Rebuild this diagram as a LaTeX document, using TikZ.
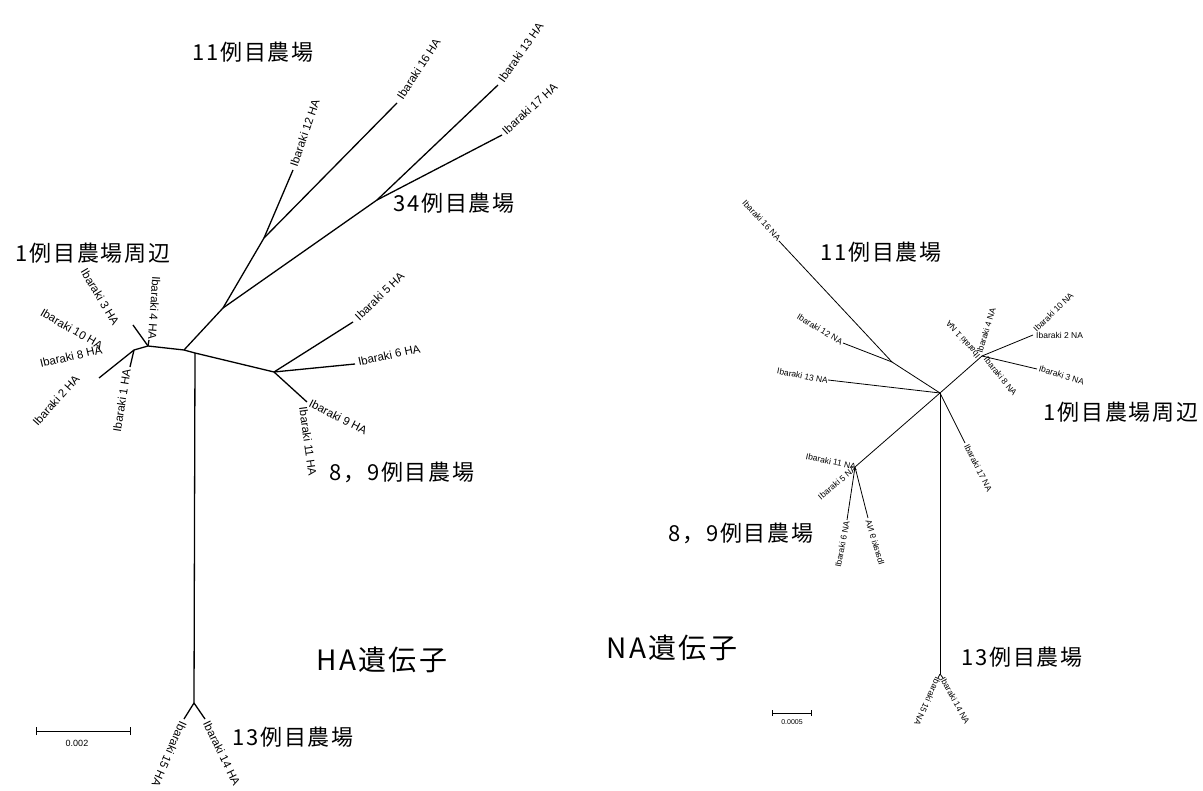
\documentclass[tikz,border=0pt]{standalone}
\usepackage{fontspec}
\usepackage{graphicx}
\newfontfamily\lbl{Liberation Sans}
\newfontfamily\cjk[LetterSpace=8]{Noto Sans CJK JP}
\begin{document}
\begin{tikzpicture}[x=1pt,y=-1pt,
  br/.style={line width=1.3pt,line join=round},
  nbr/.style={line width=0.8pt,line join=round},
  hal/.style={font=\lbl\fontsize{11.5}{12}\selectfont,inner sep=1pt},
  nal/.style={font=\lbl\fontsize{8.5}{9}\selectfont,inner sep=1pt},
  jp/.style={font=\cjk\fontsize{22}{22}\selectfont,inner sep=0pt},
  bigjp/.style={font=\cjk\fontsize{28}{28}\selectfont,inner sep=0pt},
  sbar/.style={line width=1pt}]
\useasboundingbox (0,0) rectangle (1203,791);
\fill[white] (0,0) rectangle (1203,791);
% ---------------- HA tree ----------------
\coordinate (A) at (134,350);
\coordinate (B) at (148,346);
\coordinate (C) at (184,350);
\coordinate (G) at (195,353);
\coordinate (E) at (223,308);
\coordinate (D) at (264,238);
\coordinate (F) at (377,200);
\coordinate (H) at (274,372);
\coordinate (I) at (194,703);
\coordinate (h2) at (99,378);
\coordinate (h1) at (130,367);
\coordinate (h3) at (133,325);
\coordinate (h4) at (149,340);
\coordinate (h12) at (293,170);
\coordinate (h16) at (397,103);
\coordinate (h13) at (498,85);
\coordinate (h17) at (502,135);
\coordinate (h5) at (353,322);
\coordinate (h6) at (355,364);
\coordinate (h9) at (307,402);
\coordinate (h15) at (184,719);
\coordinate (h14) at (205,719);
\draw[br] (h2) -- (A) -- (B) -- (C) -- (G) -- (H);
\draw[br] (A) -- (h1);
\draw[br] (B) -- (h3);
\draw[br] (B) -- (h4);
\draw[br] (C) -- (E);
\draw[br] (E) -- (D);
\draw[br] (E) -- (F);
\draw[br] (D) -- (h12);
\draw[br] (D) -- (h16);
\draw[br] (F) -- (h13);
\draw[br] (F) -- (h17);
\draw[br] (H) -- (h5);
\draw[br] (H) -- (h6);
\draw[br] (H) -- (h9);
\draw[br] (G) -- (I);
\draw[br] (I) -- (h15);
\draw[br] (I) -- (h14);
% HA labels
\node[hal,anchor=west,rotate=71] (l12) at (293,167) {Ibaraki 12 HA};
\node[hal,anchor=west,rotate=57] (l16) at (399,99) {Ibaraki 16 HA};
\node[hal,anchor=west,rotate=55] (l13) at (500,82) {Ibaraki 13 HA};
\node[hal,anchor=west,rotate=42] (l17) at (503,133) {Ibaraki 17 HA};
\node[hal,anchor=west,rotate=44] (l5) at (356,319) {Ibaraki 5 HA};
\node[hal,anchor=west,rotate=12] (l6) at (357,362) {Ibaraki 6 HA};
\node[hal,anchor=west,rotate=-27] (l9) at (309,402) {Ibaraki 9 HA};
\node[hal,anchor=west,rotate=-82] (l11) at (303,406) {Ibaraki 11 HA};
\node[hal,anchor=east,rotate=81] (l1) at (127,368) {Ibaraki 1 HA};
\node[hal,anchor=east,rotate=48] (l2) at (78,376) {Ibaraki 2 HA};
\node[hal,anchor=east,rotate=13] (l8) at (103,349) {Ibaraki 8 HA};
\node[hal,anchor=east,rotate=-30] (l10) at (103,347) {Ibaraki 10 HA};
\node[hal,anchor=east,rotate=-59] (l3) at (117,325) {Ibaraki 3 HA};
\node[hal,anchor=east,rotate=-94] (l4) at (152,341) {Ibaraki 4 HA};
\node[hal,anchor=west,rotate=-114] (l15) at (184,721) {Ibaraki 15 HA};
\node[hal,anchor=west,rotate=-64] (l14) at (206,721) {Ibaraki 14 HA};
% HA group labels
\node[jp] (g11) at (253,52) {11例目農場};
\node[jp] (g34) at (454,203) {34例目農場};
\node[jp] (g1) at (93,253) {1例目農場周辺};
\node[jp] (g89) at (402,472) {8，9例目農場};
\node[jp] (g13) at (293,737) {13例目農場};
\node[bigjp] (tHA) at (382,660) {HA遺伝子};
% HA scale bar
\coordinate (s1) at (36,731);
\coordinate (s2) at (130,731);
\draw[sbar] (s1) -- (s2);
\draw[sbar] ([yshift=-4pt]s1) -- ([yshift=4pt]s1);
\draw[sbar] ([yshift=-4pt]s2) -- ([yshift=4pt]s2);
\node[font=\lbl\fontsize{9}{9}\selectfont,inner sep=0pt] (sl) at (77,743) {0.002};
% ---------------- NA tree ----------------
\coordinate (J) at (940,393);
\coordinate (K) at (892,362);
\coordinate (L) at (982,356);
\coordinate (M) at (855,467);
\coordinate (N) at (940,674);
\coordinate (n16) at (779,241);
\coordinate (n12) at (843,343);
\coordinate (n13) at (828,380);
\coordinate (n2) at (1033,335);
\coordinate (n3) at (1037,369);
\coordinate (n17) at (965,443);
\coordinate (n6) at (847,520);
\coordinate (n9) at (868,518);
\coordinate (n15) at (938,678);
\coordinate (n14) at (943,678);
\draw[nbr] (J) -- (K);
\draw[nbr] (K) -- (n16);
\draw[nbr] (K) -- (n12);
\draw[nbr] (J) -- (n13);
\draw[nbr] (J) -- (L);
\draw[nbr] (L) -- (n2);
\draw[nbr] (L) -- (n3);
\draw[nbr] (J) -- (n17);
\draw[nbr] (J) -- (M);
\draw[nbr] (M) -- (n6);
\draw[nbr] (M) -- (n9);
\draw[nbr] (J) -- (N);
\draw[nbr] (N) -- (n15);
\draw[nbr] (N) -- (n14);
% NA labels
\node[nal,anchor=east,rotate=-47] (m16) at (780,240) {Ibaraki 16 NA};
\node[nal,anchor=east,rotate=-31] (m12) at (843,343) {Ibaraki 12 NA};
\node[nal,anchor=east,rotate=-11] (m13) at (829,381) {Ibaraki 13 NA};
\node[nal,anchor=west,rotate=131] (m1) at (979,358) {Ibaraki 1 NA};
\node[nal,anchor=west,rotate=73] (m4) at (979,354) {Ibaraki 4 NA};
\node[nal,anchor=west,rotate=-51] (m8) at (985,357) {Ibaraki 8 NA};
\node[nal,anchor=west,rotate=44] (m10) at (1034,331) {Ibaraki 10 NA};
\node[nal,anchor=west] (m2) at (1035,335) {Ibaraki 2 NA};
\node[nal,anchor=west,rotate=-17] (m3) at (1038,368) {Ibaraki 3 NA};
\node[nal,anchor=west,rotate=-63] (m17) at (966,444) {Ibaraki 17 NA};
\node[nal,anchor=east,rotate=-12] (m11) at (857,467) {Ibaraki 11 NA};
\node[nal,anchor=east,rotate=40] (m5) at (856,467) {Ibaraki 5 NA};
\node[nal,anchor=east,rotate=79] (m6) at (847,520) {Ibaraki 6 NA};
\node[nal,anchor=east,rotate=107] (m9) at (868,519) {\scalebox{1}[-1]{Ibaraki 9 NA}};
\node[nal,anchor=west,rotate=-115] (m15) at (939,677) {Ibaraki 15 NA};
\node[nal,anchor=west,rotate=-61] (m14) at (942,677) {Ibaraki 14 NA};
% NA group labels
\node[jp] (k11) at (881,252) {11例目農場};
\node[jp] (k1) at (1121,412) {1例目農場周辺};
\node[jp] (k89) at (741,533) {8，9例目農場};
\node[jp] (k13) at (1022,657) {13例目農場};
\node[bigjp] (tNA) at (672,648) {NA遺伝子};
% NA scale bar
\coordinate (t1) at (772,713);
\coordinate (t2) at (811,713);
\draw[line width=0.8pt] (t1) -- (t2);
\draw[line width=0.8pt] ([yshift=-3pt]t1) -- ([yshift=3pt]t1);
\draw[line width=0.8pt] ([yshift=-3pt]t2) -- ([yshift=3pt]t2);
\node[font=\lbl\fontsize{7}{7}\selectfont,inner sep=0pt] (tl) at (792,722) {0.0005};
\end{tikzpicture}
\end{document}
